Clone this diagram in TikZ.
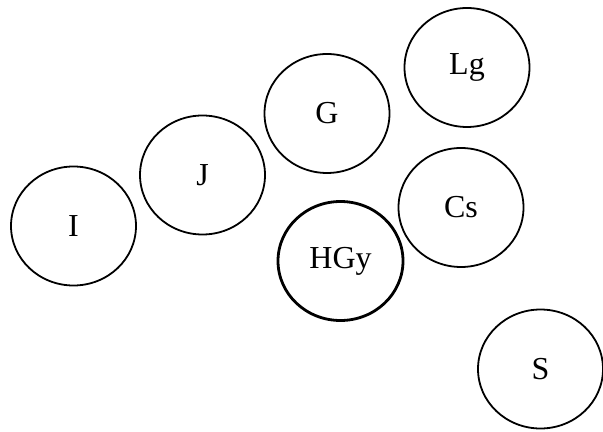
\documentclass[tikz,border=0pt]{standalone}
\usepackage{fontspec}
\setmainfont{Liberation Serif}
\usetikzlibrary{shapes.geometric}

\begin{document}
\begin{tikzpicture}[x=0.5pt, y=-0.5pt,
    bubble/.style={draw, ellipse, line width=0.9pt, minimum width=62.5pt, minimum height=59.5pt, inner sep=0pt, font=\fontsize{16}{19}\selectfont},
    thick bubble/.style={bubble, line width=1.4pt}]
    \useasboundingbox (0,0) rectangle (603,432);
    \node[bubble] (I) at (73.5,226) {I};
    \node[bubble] (J) at (202.5,175) {J};
    \node[bubble] (G) at (327,113.5) {G};
    \node[bubble] (Lg) at (467,67.5) {Lg};
    \node[bubble] (Cs) at (461,207.5) {Cs};
    \node[thick bubble] (HGy) at (340.5,261) {HGy};
    \node[bubble] (S) at (540.5,369) {S};
\end{tikzpicture}
\end{document}
